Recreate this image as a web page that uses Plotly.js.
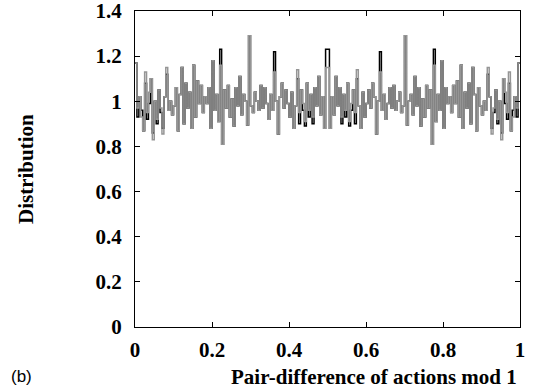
<!DOCTYPE html>
<html>
<head>
<meta charset="utf-8">
<script src="https://cdn.plot.ly/plotly-3.0.1.min.js"></script>
<style>html,body{margin:0;padding:0;background:#fff;}#chart{width:535px;height:389px;}</style>
</head>
<body>
<div id="chart"></div>
<script>
// Histogram of pair-differences mod 1, 200 bins on [0,1]
var nBins = 200;

var grayValues = [
  1.17,0.97,1.02,0.93,0.87,1.13,0.95,1.04,1.10,0.83,1.00,0.92,1.05,0.97,0.855,1.02,1.15,0.96,1.00,0.94,
  0.98,1.06,0.87,1.03,1.15,0.90,1.08,0.97,1.04,0.88,1.16,0.93,1.09,0.99,1.07,0.95,1.02,0.99,1.06,0.88,
  1.18,0.96,1.03,0.91,1.16,0.81,1.05,0.97,1.07,0.93,1.01,0.89,1.06,0.98,1.11,0.94,1.03,1.00,0.895,1.29,
  0.98,0.95,1.04,1.00,0.96,1.07,0.97,1.06,0.99,0.92,1.03,0.96,1.13,1.00,0.855,1.02,1.08,0.97,1.05,0.99,
  0.93,1.04,0.88,0.98,1.14,0.95,1.05,0.99,0.91,1.08,0.96,1.03,0.93,1.06,0.98,1.11,0.94,1.02,0.88,1.15,
  1.15,0.88,1.02,0.94,1.11,0.98,1.06,0.93,1.03,0.96,1.08,0.91,0.99,1.05,0.95,1.14,0.98,0.88,1.04,0.93,
  0.99,1.05,0.97,1.08,1.02,0.855,1.00,1.13,0.96,1.03,0.92,0.99,1.06,0.97,1.07,0.96,1.00,1.04,0.95,0.98,
  1.29,0.895,1.00,1.03,0.94,1.11,0.98,1.06,0.89,1.01,0.93,1.07,0.97,1.05,0.81,1.16,0.91,1.03,0.96,1.18,
  0.88,1.06,0.99,1.02,0.95,1.07,0.99,1.09,0.93,1.16,0.88,1.04,0.97,1.08,0.90,1.15,1.03,0.87,1.06,0.98,
  0.94,1.00,0.96,1.15,1.02,0.855,0.97,1.05,0.92,1.00,0.83,1.10,1.04,0.95,1.13,0.87,0.93,1.02,0.97,1.17
];

var blackValues = [
  1.17,0.93,1.02,0.96,0.87,1.08,0.92,0.99,1.10,0.86,1.00,0.90,1.05,0.95,0.88,1.02,1.12,0.96,1.00,0.94,
  0.98,1.06,0.87,1.03,1.15,0.90,1.08,0.97,1.04,0.88,1.16,0.93,1.09,0.99,1.07,0.95,1.02,0.99,1.06,0.88,
  1.18,0.96,1.03,0.91,1.23,0.81,1.05,0.97,1.07,0.93,1.01,0.89,1.06,0.98,1.11,0.94,1.03,1.00,0.895,1.29,
  0.98,0.95,1.04,1.00,0.96,1.07,0.97,1.06,0.99,0.92,1.03,0.96,1.22,1.00,0.855,1.02,1.08,0.97,1.05,0.99,
  0.93,1.04,0.88,0.98,1.10,0.90,1.05,0.96,0.89,1.08,0.93,1.03,0.90,1.06,0.98,1.11,0.94,1.02,0.88,1.23,
  1.23,0.88,1.02,0.94,1.11,0.98,1.06,0.90,1.03,0.93,1.08,0.89,0.96,1.05,0.90,1.10,0.98,0.88,1.04,0.93,
  0.99,1.05,0.97,1.08,1.02,0.855,1.00,1.22,0.96,1.03,0.92,0.99,1.06,0.97,1.07,0.96,1.00,1.04,0.95,0.98,
  1.29,0.895,1.00,1.03,0.94,1.11,0.98,1.06,0.89,1.01,0.93,1.07,0.97,1.05,0.81,1.23,0.91,1.03,0.96,1.18,
  0.88,1.06,0.99,1.02,0.95,1.07,0.99,1.09,0.93,1.16,0.88,1.04,0.97,1.08,0.90,1.15,1.03,0.87,1.06,0.98,
  0.94,1.00,0.96,1.12,1.02,0.88,0.95,1.05,0.90,1.00,0.86,1.10,0.99,0.92,1.08,0.87,0.96,1.02,0.93,1.17
];

var xTickVals = [0, 0.2, 0.4, 0.6, 0.8, 1];
var xTickText = ["0", "0.2", "0.4", "0.6", "0.8", "1"];
var yTickVals = [0, 0.2, 0.4, 0.6, 0.8, 1, 1.2, 1.4];
var yTickText = ["0", "0.2", "0.4", "0.6", "0.8", "1", "1.2", "1.4"];

var xTitle = "Pair-difference of actions mod 1";
var yTitle = "Distribution";
var panelLabel = "(b)";

function stepXY(vals) {
  var xs = [], ys = [];
  for (var i = 0; i < vals.length; i++) { xs.push(i / nBins); ys.push(vals[i]); }
  xs.push(1); ys.push(vals[vals.length - 1]);
  return {x: xs, y: ys};
}

var b = stepXY(blackValues);
var g = stepXY(grayValues);

var serif = {family: "Liberation Serif, Times New Roman, serif", size: 21, color: "#000", weight: "bold"};

var data = [
  {x: b.x, y: b.y, type: "scatter", mode: "lines", line: {shape: "hv", color: "#000", width: 1.5}, hoverinfo: "skip"},
  {x: g.x, y: g.y, type: "scatter", mode: "lines", line: {shape: "hv", color: "#959595", width: 1.5}, hoverinfo: "skip"}
];

// plot area in pixels: left 135, right 520, top 11, bottom 327
var L = 135, W = 385, T = 11, H = 316;
function px(xp) { return (xp - L) / W; }
function py(yp) { return (T + H - yp) / H; }

var layout = {
  width: 535, height: 389,
  margin: {l: L, r: 535 - L - W, t: T, b: 389 - T - H},
  paper_bgcolor: "#fff", plot_bgcolor: "#fff",
  showlegend: false,
  xaxis: {
    range: [0, 1], tickmode: "array", tickvals: xTickVals, ticktext: xTickText,
    ticks: "inside", ticklen: 5, tickcolor: "#000", showline: true, linecolor: "#000", linewidth: 1,
    mirror: "ticks", showgrid: false, zeroline: false, tickfont: serif, ticklabelstandoff: 4,
    ticklabeloverflow: "allow"
  },
  yaxis: {
    range: [0, 1.4], tickmode: "array", tickvals: yTickVals, ticktext: yTickText,
    ticks: "inside", ticklen: 5, tickcolor: "#000", showline: true, linecolor: "#000", linewidth: 1,
    mirror: "ticks", showgrid: false, zeroline: false, tickfont: serif, ticklabelstandoff: 8,
    ticklabeloverflow: "allow"
  },
  annotations: [
    {text: xTitle, xref: "paper", yref: "paper", x: px(374), y: py(377),
     xanchor: "center", yanchor: "middle", showarrow: false, font: serif},
    {text: yTitle, xref: "paper", yref: "paper", x: px(26), y: py(169), textangle: -90,
     xanchor: "center", yanchor: "middle", showarrow: false, font: serif},
    {text: panelLabel, xref: "paper", yref: "paper", x: px(9), y: py(376),
     xanchor: "left", yanchor: "middle", showarrow: false,
     font: {family: "Liberation Sans, Arial, sans-serif", size: 17, color: "#000"}}
  ]
};

Plotly.newPlot("chart", data, layout, {staticPlot: true, displayModeBar: false});
</script>
</body>
</html>
